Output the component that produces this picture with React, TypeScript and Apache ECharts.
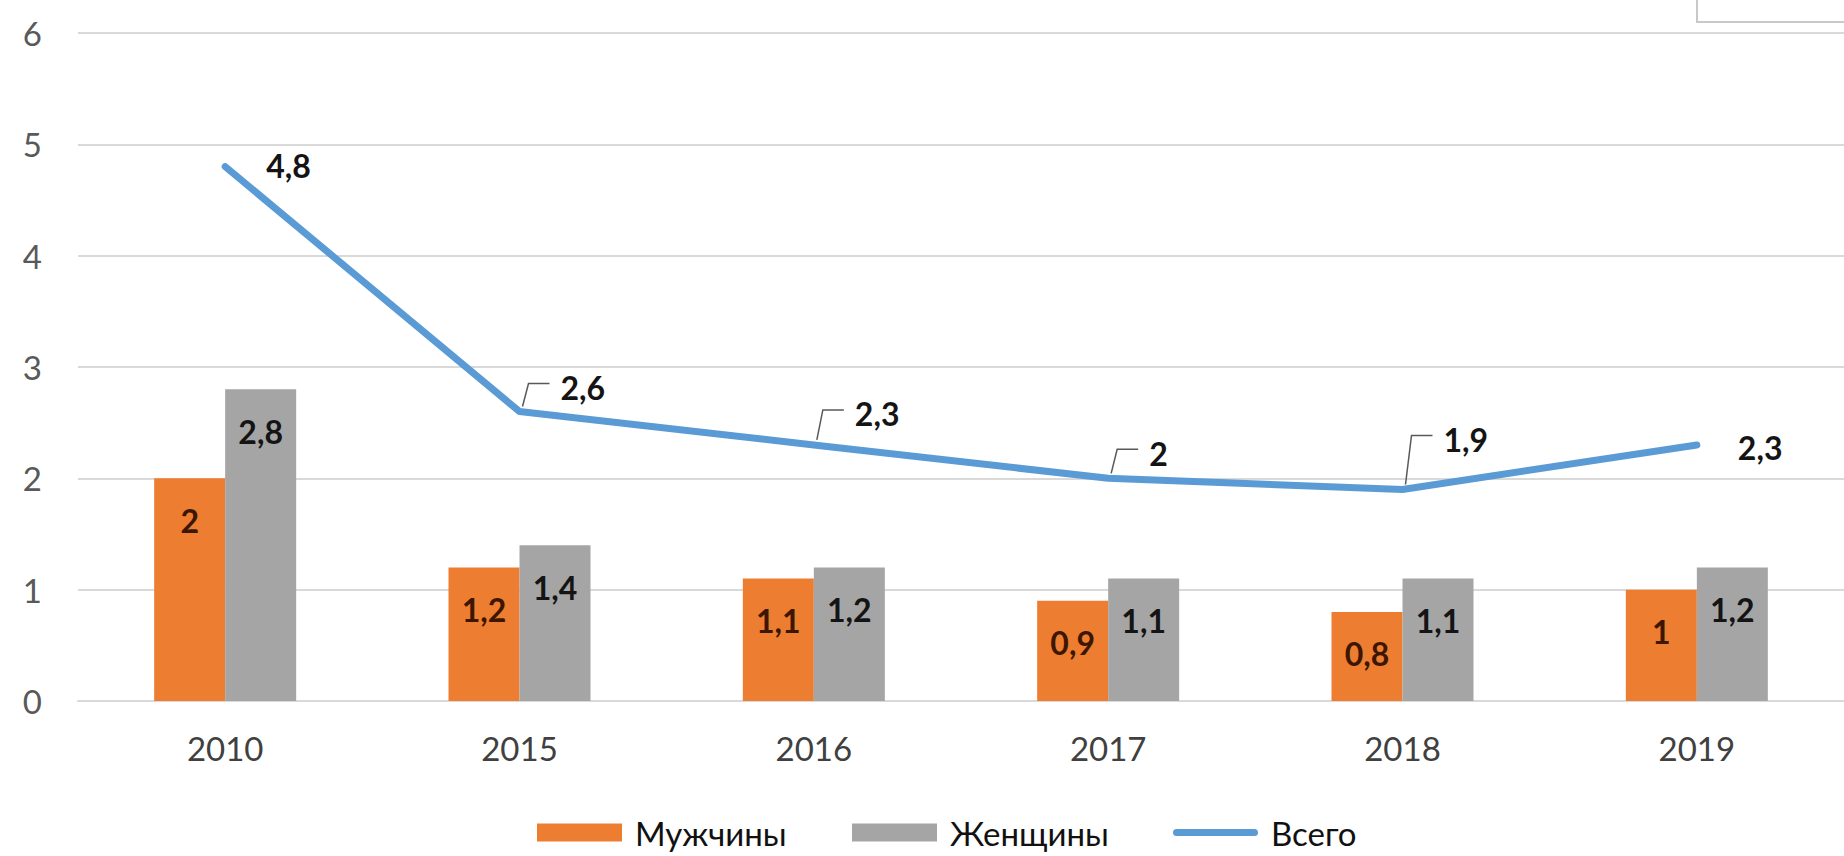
import React, { useEffect, useRef } from "react";
import * as echarts from "echarts";

const categories = ["2010", "2015", "2016", "2017", "2018", "2019"];
const men = [2, 1.2, 1.1, 0.9, 0.8, 1];
const women = [2.8, 1.4, 1.2, 1.1, 1.1, 1.2];
const total = [4.8, 2.6, 2.3, 2, 1.9, 2.3];
const yTicks = [0, 1, 2, 3, 4, 5, 6];
const legendNames = ["Мужчины", "Женщины", "Всего"];

// label placement (styling, not data)
const totalLabelDy = [-1, -24, -31, -25, -50, 3];
const totalLeader = [false, true, true, true, true, false];
const legendTextWidths = [169, 175, 95];
const legendIcons = ["rect", "rect", "path://M3.5,0 H81.5 A3.5,3.5 0 0 1 81.5,7 H3.5 A3.5,3.5 0 0 1 3.5,0 Z"];

const FONT = "Lato, 'Open Sans', 'Noto Sans', sans-serif";
const fmt = (v: number) => String(v).replace(".", ",");

export default function App() {
  const ref = useRef<HTMLDivElement>(null);
  useEffect(() => {
    if (!ref.current) return;
    const chart = echarts.init(ref.current, undefined, { renderer: "svg" });
    const leaderData = total
      .map((v, i) => (totalLeader[i] ? [i, v, totalLabelDy[i]] : null))
      .filter((d) => d !== null);
    chart.setOption({
      animation: false,
      backgroundColor: "#ffffff",
      textStyle: { fontFamily: FONT },
      grid: { left: 78, top: 33, width: 1770, height: 668, containLabel: false },
      legend: {
        left: 537,
        top: 816,
        padding: 0,
        itemWidth: 85,
        itemHeight: 18,
        itemGap: 48,
        symbolKeepAspect: true,
        textStyle: {
          fontFamily: FONT,
          fontSize: 33,
          lineHeight: 30,
          color: "#111111",
          padding: [0, 0, 0, 8],
        },
        data: legendNames.map((n, i) => ({
          name: n,
          icon: legendIcons[i],
          textStyle: { width: legendTextWidths[i], overflow: "none" },
        })),
      },
      xAxis: {
        type: "category",
        data: categories,
        axisLine: { show: true, lineStyle: { color: "#d9d9d9", width: 2 } },
        axisTick: { show: false },
        axisLabel: {
          fontFamily: FONT,
          fontSize: 33,
          lineHeight: 34,
          color: "#404040",
          margin: 30,
        },
      },
      yAxis: {
        type: "value",
        min: yTicks[0],
        max: yTicks[yTicks.length - 1],
        interval: 1,
        axisLine: { show: false },
        axisTick: { show: false },
        splitLine: { lineStyle: { color: "#d9d9d9", width: 2 } },
        axisLabel: {
          fontFamily: FONT,
          fontSize: 33,
          color: "#595959",
          margin: 36,
        },
      },
      series: [
        {
          name: "Мужчины",
          type: "bar",
          data: men,
          barWidth: 71,
          barGap: "0%",
          itemStyle: { color: "#ED7D31" },
          label: {
            show: true,
            position: "insideTop",
            distance: 26,
            fontFamily: FONT,
            fontSize: 32,
            fontWeight: "bold",
            color: "#3d1600",
            formatter: (p: any) => fmt(p.value),
          },
        },
        {
          name: "Женщины",
          type: "bar",
          data: women,
          barWidth: 71,
          barGap: "0%",
          itemStyle: { color: "#A5A5A5" },
          label: {
            show: true,
            position: "insideTop",
            distance: 26,
            fontFamily: FONT,
            fontSize: 32,
            fontWeight: "bold",
            color: "#141414",
            formatter: (p: any) => fmt(p.value),
          },
        },
        {
          name: "Всего",
          type: "line",
          data: total.map((v, i) => ({
            value: v,
            label: { offset: [0, totalLabelDy[i]] },
          })),
          symbol: "circle",
          symbolSize: 2,
          z: 5,
          itemStyle: { color: "#5B9BD5" },
          lineStyle: { color: "#5B9BD5", width: 7, cap: "round", join: "round" },
          label: {
            show: true,
            position: "right",
            distance: 40,
            fontFamily: FONT,
            fontSize: 32,
            fontWeight: "bold",
            color: "#141414",
            formatter: (p: any) => fmt(p.value),
          },
        },
        {
          name: "leaders",
          type: "custom",
          silent: true,
          z: 6,
          data: leaderData,
          encode: { x: 0, y: 1 },
          renderItem: (params: any, api: any) => {
            const p = api.coord([api.value(0), api.value(1)]);
            const dy = api.value(2);
            return {
              type: "polyline",
              shape: {
                points: [
                  [p[0] + 3, p[1] - 5],
                  [p[0] + 9, p[1] + dy - 4],
                  [p[0] + 30, p[1] + dy - 4],
                ],
              },
              style: { stroke: "#595959", lineWidth: 1.5, fill: "none" },
            };
          },
        },
      ],
      graphic: [
        {
          type: "rect",
          shape: { x: 1697, y: -6, width: 200, height: 28 },
          style: { fill: "#ffffff", stroke: "#c8c8c8", lineWidth: 2 },
        },
      ],
    });
    return () => chart.dispose();
  }, []);
  return (
    <div
      ref={ref}
      style={{ position: "absolute", left: 0, top: 0, width: 1844, height: 856, background: "#fff" }}
    />
  );
}
